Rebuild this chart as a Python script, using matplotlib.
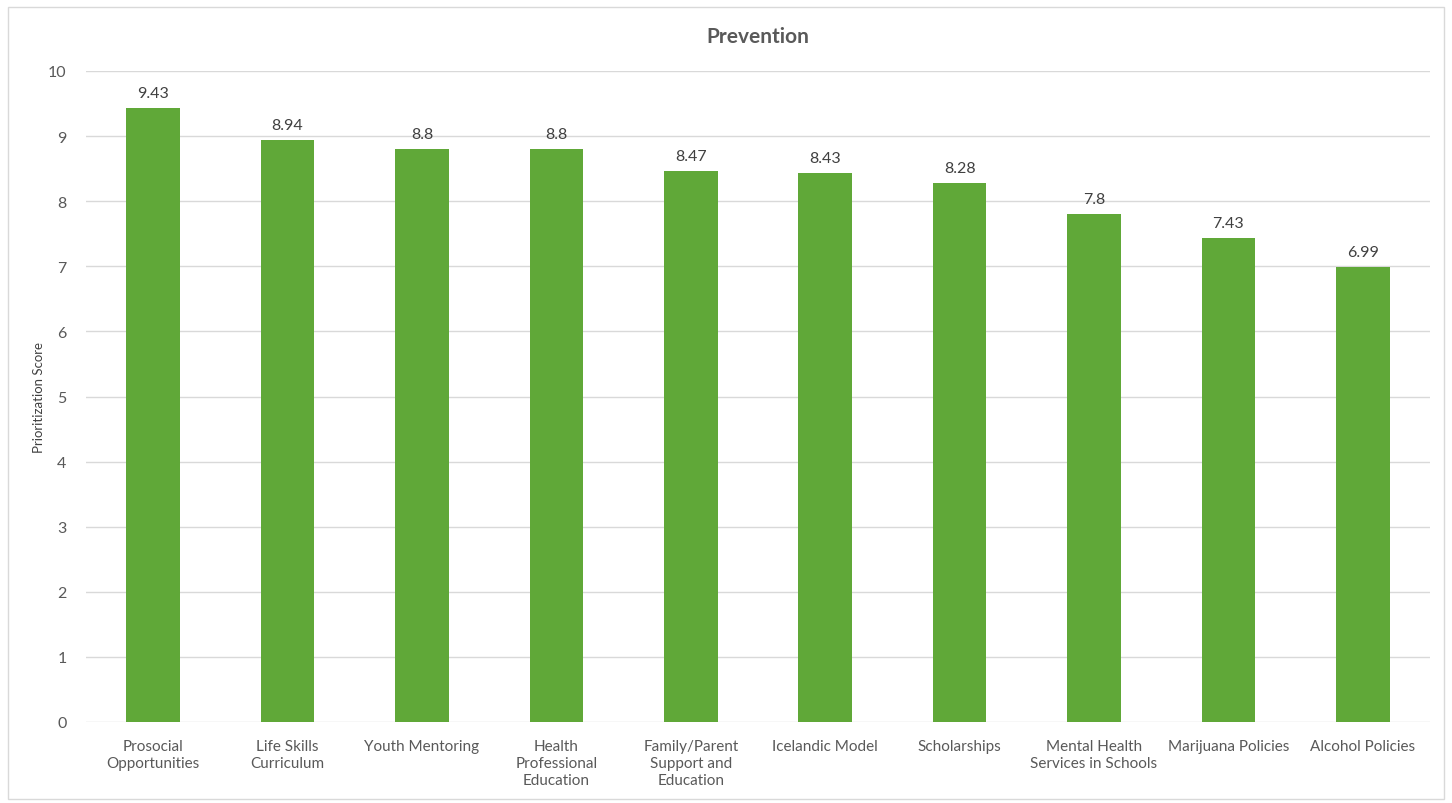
import matplotlib
matplotlib.use("Agg")
import matplotlib.pyplot as plt
from matplotlib.patches import Rectangle
import numpy as np

categories = ["Prosocial\nOpportunities", "Life Skills\nCurriculum", "Youth Mentoring",
              "Health\nProfessional\nEducation", "Family/Parent\nSupport and\nEducation",
              "Icelandic Model", "Scholarships", "Mental Health\nServices in Schools",
              "Marijuana Policies", "Alcohol Policies"]
scores = [9.43, 8.94, 8.8, 8.8, 8.47, 8.43, 8.28, 7.8, 7.43, 6.99]
score_labels = ["9.43", "8.94", "8.8", "8.8", "8.47", "8.43", "8.28", "7.8", "7.43", "6.99"]

plt.rcParams['font.family'] = ['Lato', 'DejaVu Sans']
text_col = '#595959'
bar_col = '#60A838'

fig = plt.figure(figsize=(14.52, 8.04), dpi=100)
# chart border
fig.patches.append(Rectangle((8/1452, 4/804), 1436/1452, 792/804, transform=fig.transFigure,
                             fill=False, edgecolor='#D9D9D9', linewidth=1))

ax = fig.add_axes([86/1452, 1 - 723/804, 1344/1452, 651/804])
x = np.arange(len(categories))
bars = ax.bar(x, scores, width=0.4, color=bar_col, zorder=3)

for xi, v, lab in zip(x, scores, score_labels):
    ax.text(xi, v + 0.12, lab, ha='center', va='bottom', fontsize=11.5, color='#404040')

ax.set_xlim(-0.5, len(categories) - 0.5)
ax.set_ylim(0, 10)
ax.set_yticks(np.arange(0, 11, 1))
ax.set_xticks(x)
ax.set_xticklabels(categories, fontsize=11, color=text_col, va='top', linespacing=1.3)
ax.tick_params(axis='y', labelsize=11.5, labelcolor=text_col, length=0, pad=14)
ax.tick_params(axis='x', length=0, pad=12)
ax.grid(axis='y', color='#D9D9D9', linewidth=1, zorder=0)
for s in ax.spines.values():
    s.set_visible(False)

ax.set_ylabel('Prioritization Score', fontsize=9.5, color='#404040')
ax.yaxis.set_label_coords(-41 / 1344, 0.5)
fig.text(0.5 * (86 + 1430) / 1452, 1 - 37 / 804, 'Prevention', ha='center', va='center',
         fontsize=15, fontweight='bold', color=text_col)

fig.savefig('out.png', dpi=100)
